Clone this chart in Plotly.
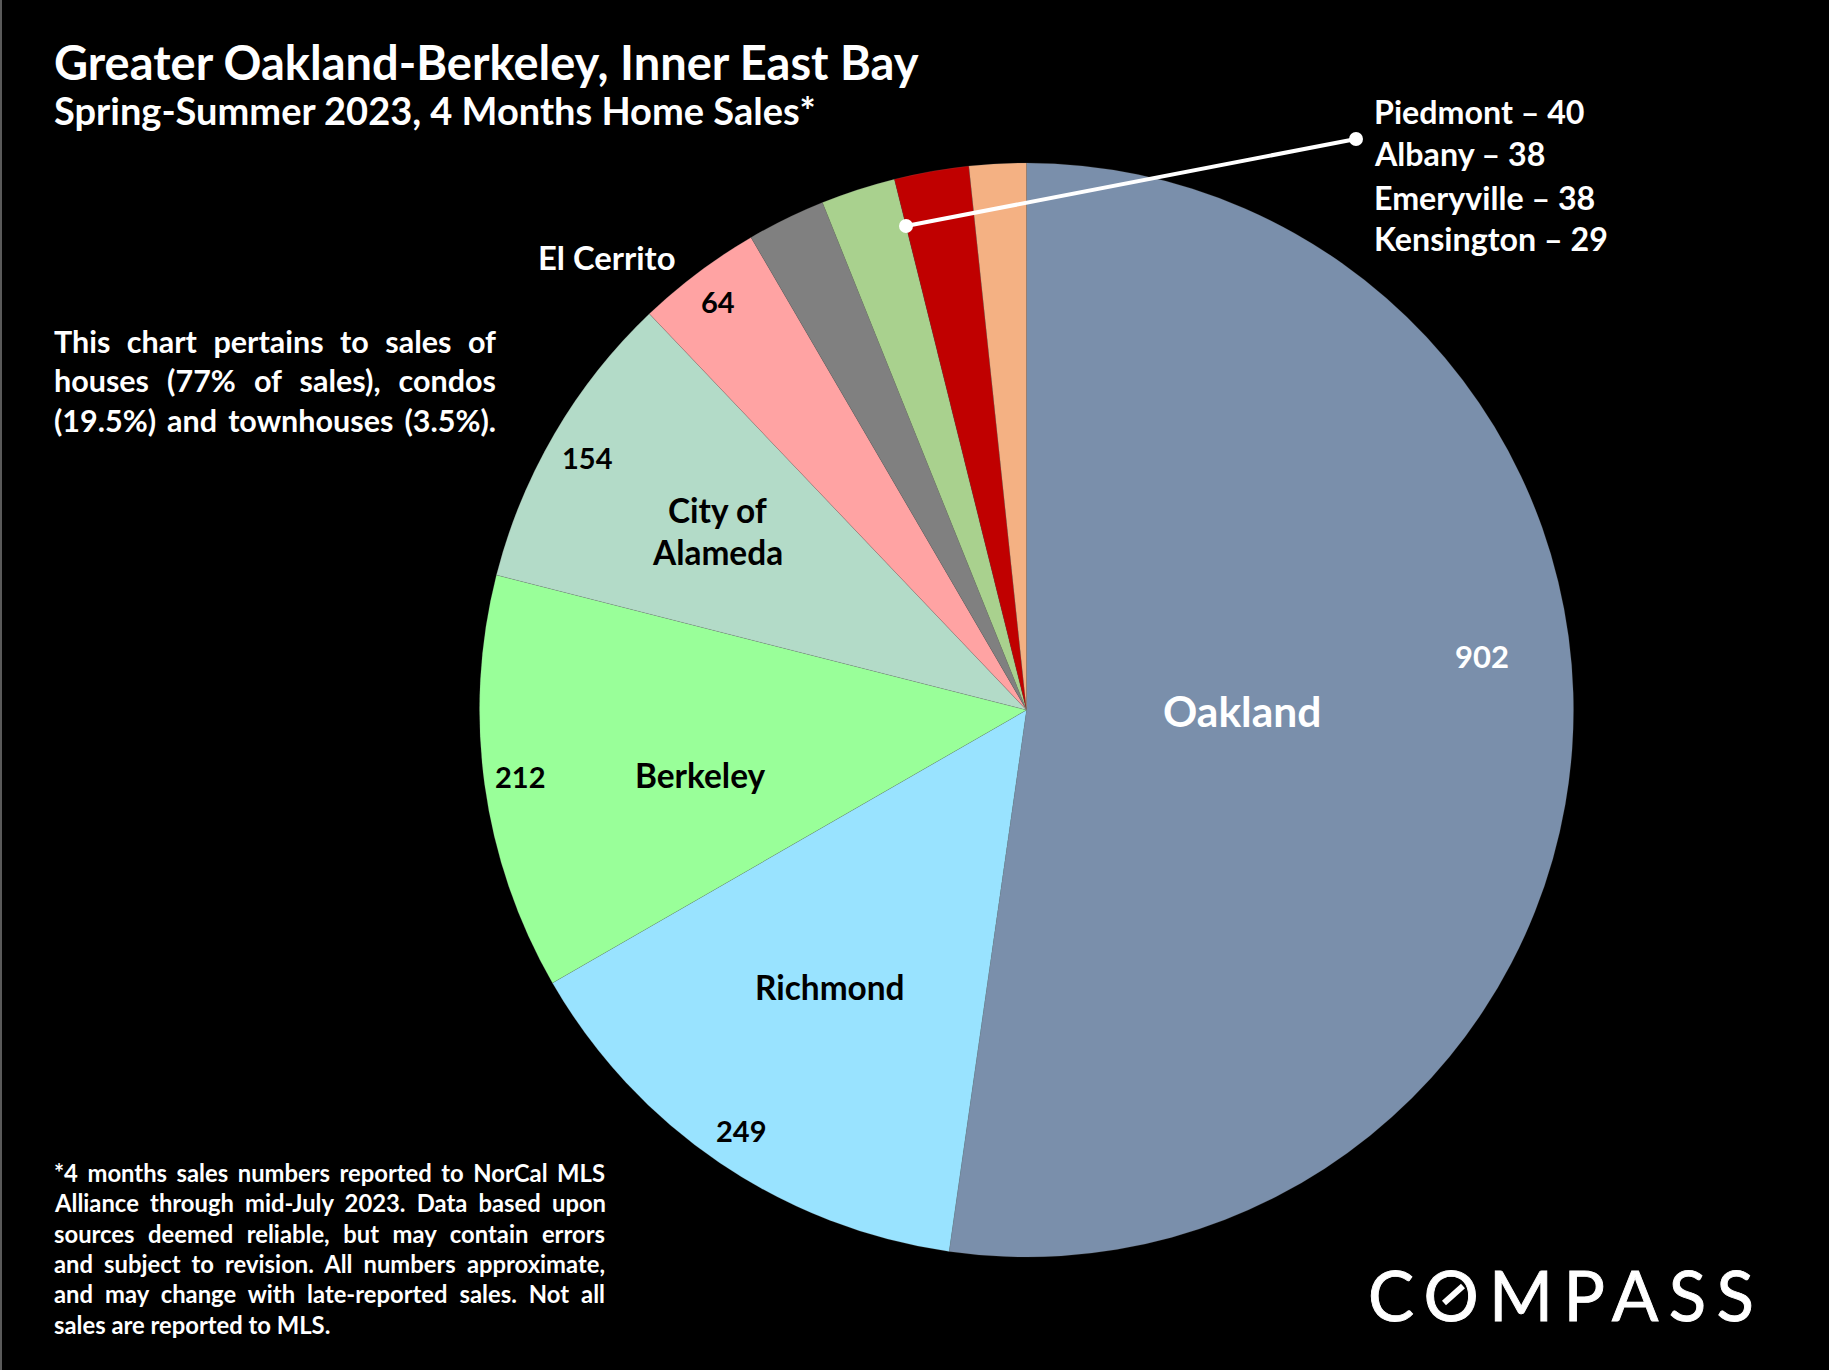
import json
import plotly.graph_objects as go

W, H = 1829, 1370

# ---- data ----
towns = ["Oakland", "Richmond", "Berkeley", "City of Alameda", "El Cerrito",
         "Piedmont", "Albany", "Emeryville", "Kensington"]
sales = [902, 249, 212, 154, 64, 40, 38, 38, 29]
slice_colors = ["#7A8FAB", "#99E3FF", "#99FF99", "#B3DBC8", "#FFA3A3",
                "#808080", "#A9D18E", "#C00000", "#F4B183"]
title = "Greater Oakland-Berkeley, Inner East Bay"
subtitle = "Spring-Summer 2023, 4 Months Home Sales*"
note_lines = ["This chart pertains to sales of",
              "houses (77% of sales), condos",
              "(19.5%) and townhouses (3.5%)."]
foot_lines = ["*4 months sales numbers reported to NorCal MLS",
              "Alliance through mid-July 2023. Data based upon",
              "sources deemed reliable, but may contain errors",
              "and subject to revision. All numbers approximate,",
              "and may change with late-reported sales. Not all",
              "sales are reported to MLS."]
logo = "COMPASS"

FONT = "Lato"
cx, cy, r = 1026.5, 710, 547


def px(x, y):
    return x / W, 1 - y / H


annotations = []


def add(text, x, y, size, color="white", anchor="center", bold=True, family=FONT):
    ax, ay = px(x, y)
    annotations.append(dict(
        text=f"<b>{text}</b>" if bold else text, x=ax, y=ay, xref="paper", yref="paper",
        xanchor=anchor, yanchor="middle", align=anchor if anchor != "center" else "center",
        showarrow=False, font=dict(family=family, size=size, color=color),
        borderpad=0, borderwidth=0))


add(title, 54, 62, 47, anchor="left")
add(subtitle, 54, 110, 38, anchor="left")
for ln, y in zip(note_lines, [341, 380, 420]):
    add(ln, 54, y, 30.5, anchor="left")
for ln, y in zip(foot_lines, [1173, 1203, 1234, 1264, 1294, 1325]):
    add(ln, 54, y, 23.8, anchor="left")
for i, y in zip([5, 6, 7, 8], [112, 154, 197, 239]):
    add(f"{towns[i]} – {sales[i]}", 1374, y, 32.2, anchor="left")

add(towns[0], 1242, 710, 42.5)
add(str(sales[0]), 1482, 656, 31)
add(towns[1], 830, 987, 33.4, color="black")
add(str(sales[1]), 741, 1130, 29, color="black")
add(towns[2], 700, 775, 33.4, color="black")
add(str(sales[2]), 520, 776, 29, color="black")
add("City of", 717, 510, 33.4, color="black")
add("Alameda", 717, 552, 33.4, color="black")
add(str(sales[3]), 587, 457, 29, color="black")
add(str(sales[4]), 718, 301, 29, color="black")
add(towns[4], 607, 257, 32.8)
add(logo, 1368, 1294, 69, bold=False)

dom_x = [(cx - r) / W, (cx + r) / W]
dom_y = [1 - (cy + r) / H, 1 - (cy - r) / H]

fig = go.Figure(go.Pie(
    labels=towns, values=sales, sort=False, direction="clockwise", rotation=0,
    marker=dict(colors=slice_colors, line=dict(color="rgba(120,120,120,0.35)", width=0.5)),
    textinfo="none", hoverinfo="label+value", showlegend=False,
    domain=dict(x=dom_x, y=dom_y)))


def circle(x, y, rad, color="white"):
    x0, y0 = px(x - rad, y - rad)
    x1, y1 = px(x + rad, y + rad)
    return dict(type="circle", xref="paper", yref="paper", x0=x0, y0=y0, x1=x1, y1=y1,
                fillcolor=color, line=dict(width=0))


def seg(x0, y0, x1, y1, width, color="white"):
    a, b = px(x0, y0)
    c, d = px(x1, y1)
    return dict(type="line", xref="paper", yref="paper", x0=a, y0=b, x1=c, y1=d,
                line=dict(color=color, width=width))


shapes = [
    seg(906, 226, 1356, 139, 4),
    circle(906, 226, 7),
    circle(1356, 139, 7),
    seg(1444, 1303, 1463, 1286, 6),
    seg(1, 0, 1, H, 2, "#5a5a5a"),
]

fig.update_layout(width=W, height=H, margin=dict(l=0, r=0, t=0, b=0),
                  paper_bgcolor="black", plot_bgcolor="black",
                  annotations=annotations, shapes=shapes, showlegend=False)

fit = {}
for ln in note_lines:
    fit[ln] = 442
for ln in foot_lines[:-1]:
    fit[ln] = 551
spacing = {logo: [1368, 386]}

post = """
document.body.style.margin = '0';
document.body.style.background = 'black';
var fit = %s, spacing = %s;
document.querySelectorAll('text.annotation-text').forEach(function (t) {
  var s = t.textContent;
  if (fit[s]) {
    var n = s.split(' ').length - 1;
    var ws = (fit[s] - t.getComputedTextLength()) / n;
    t.style.wordSpacing = ws + 'px';
  }
  if (spacing[s]) {
    var ls = (spacing[s][1] - t.getComputedTextLength()) / (s.length - 1);
    t.style.letterSpacing = ls + 'px';
    var dx = spacing[s][0] - t.getBoundingClientRect().left;
    t.setAttribute('transform', 'translate(' + dx + ',0)');
    t.style.stroke = 'white';
    t.style.strokeWidth = '0.9px';
  }
});
""" % (json.dumps(fit), json.dumps(spacing))

fig.write_html("out.html", post_script=post, config={"displayModeBar": False})
